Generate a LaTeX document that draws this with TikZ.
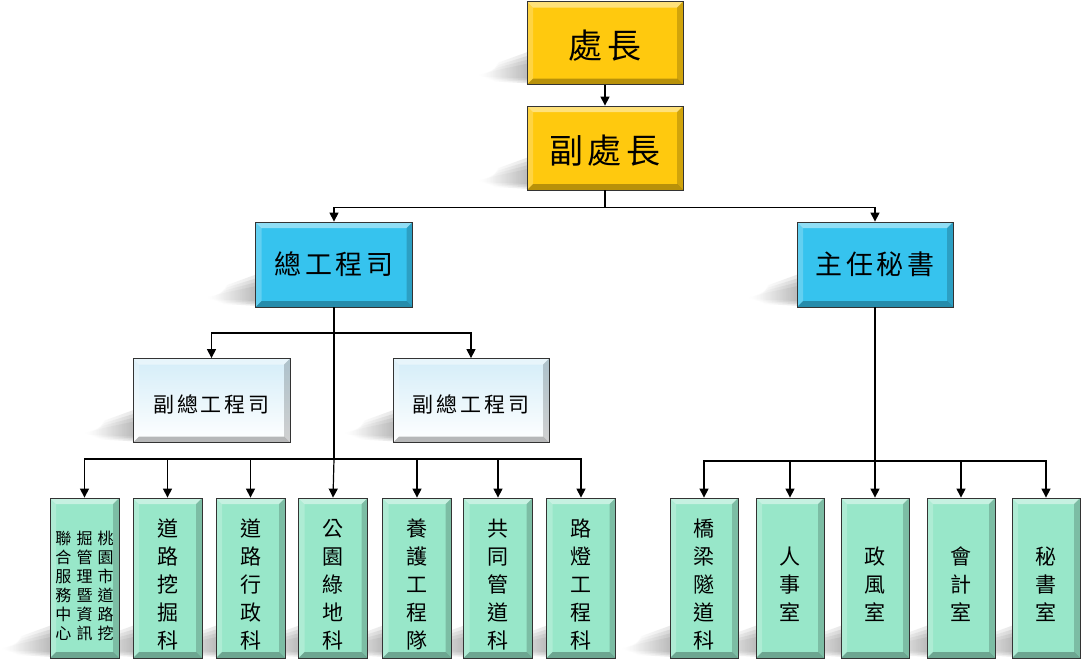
\documentclass[tikz,border=0pt]{standalone}
\usepackage{fontspec}
\newfontfamily\cjk[LetterSpace=14]{Noto Sans CJK TC}
\newfontfamily\cjkv{Noto Sans CJK TC}
\usetikzlibrary{arrows.meta,backgrounds}
\definecolor{gold}{HTML}{FFC90E}
\definecolor{sky}{HTML}{36C3EE}
\definecolor{mint}{HTML}{98E7C9}
\definecolor{pale}{HTML}{D4EDF8}
\tikzset{
  x=1pt,y=-1pt,
  bevel/.style={path picture={
    \path (path picture bounding box.north west) coordinate (pnw)
          (path picture bounding box.north east) coordinate (pne)
          (path picture bounding box.south west) coordinate (psw)
          (path picture bounding box.south east) coordinate (pse);
    \fill[white,opacity=.45] (pnw) -- (pne) -- ([xshift=-6pt,yshift=-6pt]pne) -- ([xshift=6pt,yshift=-6pt]pnw) -- cycle;
    \fill[white,opacity=.22] (pnw) -- (psw) -- ([xshift=6pt,yshift=6pt]psw) -- ([xshift=6pt,yshift=-6pt]pnw) -- cycle;
    \fill[black,opacity=.18] (pne) -- (pse) -- ([xshift=-6pt,yshift=6pt]pse) -- ([xshift=-6pt,yshift=-6pt]pne) -- cycle;
    \fill[black,opacity=.28] (psw) -- (pse) -- ([xshift=-6pt,yshift=6pt]pse) -- ([xshift=6pt,yshift=6pt]psw) -- cycle;
  }},
  basebox/.style={draw=black!80, line width=0.8pt, inner sep=0pt, bevel, align=center},
  goldbox/.style={basebox, fill=gold, minimum width=156pt, minimum height=83pt, font=\cjk\fontsize{34}{40}\selectfont},
  bluebox/.style={basebox, fill=sky, minimum width=157pt, minimum height=85pt, font=\cjk\fontsize{27}{31}\selectfont},
  whitebox/.style={basebox, top color=pale, bottom color=white, minimum width=157pt, minimum height=84pt, font=\cjk\fontsize{21}{25}\selectfont},
  greenbox/.style={basebox, fill=mint, minimum width=69pt, minimum height=160pt, font=\cjkv\fontsize{21}{28}\selectfont},
  arr/.style={line width=1.2pt, -{Triangle[length=9pt,width=9pt]}},
  trunk/.style={line width=2.2pt},
  thin/.style={line width=1.2pt},
  shadowlayer/.style={left color=white, right color=black!45, opacity=.22},
}
\newcommand{\shadpoly}[2]{%
  \shade[shadowlayer]
    ([xshift=4pt,yshift=30pt+#2]#1.south west) -- ([xshift=-28pt,yshift=20pt+.6*#2]#1.south west) --
    ([xshift=-40pt+#2,yshift=10pt]#1.south west) -- ([xshift=-36pt+#2,yshift=5pt-.4*#2]#1.south west) --
    ([xshift=4pt,yshift=3pt-.4*#2]#1.south west) -- cycle;}
\newcommand{\shad}[1]{\shadpoly{#1}{4pt}\shadpoly{#1}{0pt}\shadpoly{#1}{-4pt}\shadpoly{#1}{-8pt}}
\newcommand{\down}[2]{\raisebox{-#1}[\height][\depth]{#2}}
\newcommand{\vstack}[1]{\down{9pt}{\begin{tabular}{@{}c@{}}#1\end{tabular}}}
\begin{document}
\begin{tikzpicture}
\useasboundingbox (0,0) rectangle (1090,667);

\node[goldbox] (A) at (605,43) {\down{3pt}{處長}};
\node[goldbox, minimum height=84pt] (B) at (605,148) {\down{3pt}{副處長}};
\node[bluebox] (C) at (334,264.5) {總工程司};
\node[bluebox, minimum width=156pt] (D) at (875,264.5) {主任秘書};
\node[whitebox] (E1) at (211.5,400.5) {\down{4pt}{副總工程司}};
\node[whitebox, minimum width=156pt] (E2) at (471,400.5) {\down{4pt}{副總工程司}};

\node[greenbox] (L1) at (84.5,578) {\down{10pt}{\fontsize{16}{18.4}\selectfont\setlength{\tabcolsep}{2.6pt}\begin{tabular}{@{}ccc@{}}
聯&掘&桃\\合&管&園\\服&理&市\\務&暨&道\\中&資&路\\心&訊&挖\end{tabular}}};
\node[greenbox] (L2) at (167.5,578) {\vstack{道\\路\\挖\\掘\\科}};
\node[greenbox] (L3) at (250.5,578) {\vstack{道\\路\\行\\政\\科}};
\node[greenbox] (L4) at (333,578) {\vstack{公\\園\\綠\\地\\科}};
\node[greenbox] (L5) at (417,578) {\vstack{養\\護\\工\\程\\隊}};
\node[greenbox] (L6) at (498,578) {\vstack{共\\同\\管\\道\\科}};
\node[greenbox] (L7) at (581,578) {\vstack{路\\燈\\工\\程\\科}};

\node[greenbox, minimum width=68pt] (R1) at (704,578) {\vstack{橋\\梁\\隧\\道\\科}};
\node[greenbox, minimum width=68pt] (R2) at (790,578) {\vstack{人\\事\\室}};
\node[greenbox, minimum width=68pt] (R3) at (875,578) {\vstack{政\\風\\室}};
\node[greenbox, minimum width=68pt] (R4) at (961,578) {\vstack{會\\計\\室}};
\node[greenbox, minimum width=68pt] (R5) at (1046,578) {\vstack{秘\\書\\室}};

\begin{scope}[on background layer]
\fill[white] (0,0) rectangle (1090,667);
\foreach \n in {A,B,C,D,E1,E2,L1,L2,L3,L4,L5,L6,L7,R1,R2,R3,R4,R5}{\shad{\n}}
\end{scope}

\coordinate (j1) at (605,207.5);
\coordinate (j2) at (334,333);
\coordinate (j3) at (334,459);
\coordinate (j4) at (875,461);

\draw[arr] (A) -- (B);
\draw[thin] (B.south) -- (j1);
\draw[arr] (j1) -| (C.north);
\draw[arr] (j1) -| (D.north);
\draw[trunk] (C.south) -- (j3);
\draw[arr] (j2) -| (E1.north);
\draw[arr] (j2) -| (E2.north);
\foreach \n in {L1,L2,L3,L5,L6,L7}{\draw[arr] (j3) -| (\n.north);}
\draw[arr] (j3) -- (L4.north);
\draw[trunk] (D.south) -- (j4);
\foreach \n in {R1,R2,R4,R5}{\draw[arr] (j4) -| (\n.north);}
\draw[arr] (j4) -- (R3.north);
\end{tikzpicture}
\end{document}
